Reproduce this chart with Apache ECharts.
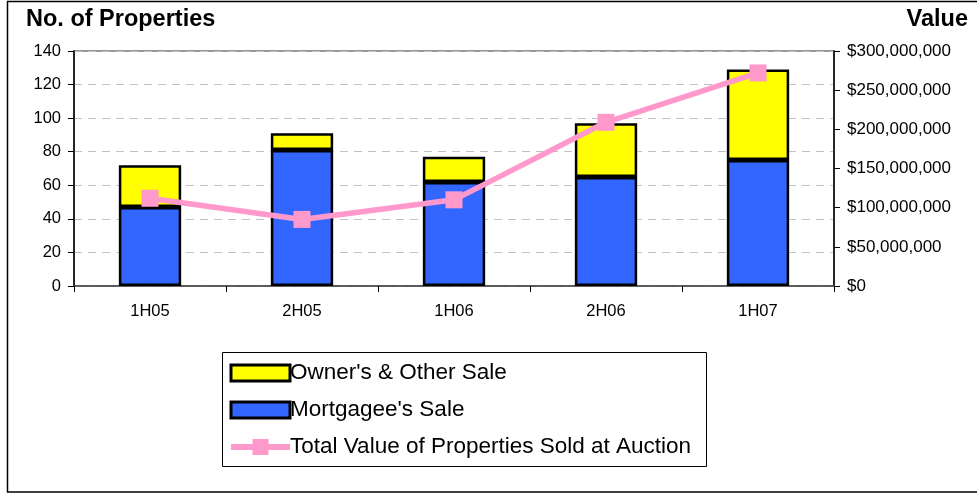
<!DOCTYPE html>
<html><head><meta charset="utf-8">
<script src="https://cdn.jsdelivr.net/npm/echarts@6/dist/echarts.min.js"></script>
<style>html,body{margin:0;padding:0;background:#fff}#c{width:977px;height:494px}</style>
</head><body><div id="c"></div>
<script>
var categories = ['1H05','2H05','1H06','2H06','1H07'];
var mortgageeSale = [47, 81, 62, 65, 75];
var ownersOtherSale = [25, 10, 15, 32, 54];
var totalValue = [112000000, 85000000, 110000000, 209000000, 272000000];

var chart = echarts.init(document.getElementById('c'));
var FONT = 'Liberation Sans, Arial, sans-serif';
function money(v){ return '$' + String(Math.round(v)).replace(/\B(?=(\d{3})+(?!\d))/g, ','); }
var barIcon = 'path://M0,0L55,0L55,15L0,15Z';

chart.setOption({
  animation: false,
  textStyle: {fontFamily: FONT},
  graphic: [
    {type:'rect', shape:{x:7.5, y:1.5, width:985, height:490.5}, style:{fill:'none', stroke:'#000', lineWidth:1.5}, z:-1},
    {type:'rect', shape:{x:222.5, y:352.5, width:484, height:114}, style:{fill:'#fff', stroke:'#000', lineWidth:1}, z:-1},
    {type:'text', left:26, top:8, style:{text:'No. of Properties', font:'bold 23.5px '+FONT, fill:'#000'}},
    {type:'text', right:9, top:8, style:{text:'Value', font:'bold 23.5px '+FONT, fill:'#000'}}
  ],
  legend: {
    orient:'vertical', left:228, top:361, padding:0,
    itemWidth:59, itemHeight:20, itemGap:13,
    textStyle:{fontSize:22.5, color:'#000', fontFamily:FONT, lineHeight:24, padding:[0,0,0,-5]},
    data:[
      {name:"Owner's & Other Sale", icon: barIcon, itemStyle:{borderWidth:3, borderColor:'#000'}},
      {name:"Mortgagee's Sale", icon: barIcon, itemStyle:{borderWidth:3, borderColor:'#000'}},
      {name:'Total Value of Properties Sold at Auction', lineStyle:{width:6}}
    ]
  },
  grid: {left:74, right:143, top:51, height:235, show:true, borderColor:'#999', borderWidth:2, containLabel:false},
  xAxis: {
    type:'category', data:categories,
    axisLine:{lineStyle:{color:'#444', width:1.5}},
    axisTick:{show:true, length:6, lineStyle:{color:'#000'}},
    axisLabel:{color:'#000', fontSize:16.5, margin:17}
  },
  yAxis: [
    {type:'value', min:0, max:140, interval:20, position:'left',
     axisLine:{show:true, lineStyle:{color:'#000', width:1.5}},
     axisTick:{show:true, length:6, lineStyle:{color:'#000'}},
     axisLabel:{color:'#000', fontSize:16.5, margin:13},
     splitLine:{show:true, lineStyle:{color:'#c0c0c0', type:[8,6], width:1}}},
    {type:'value', min:0, max:300000000, interval:50000000, position:'right',
     axisLine:{show:true, lineStyle:{color:'#000', width:1.5}},
     axisTick:{show:true, length:6, lineStyle:{color:'#000'}},
     axisLabel:{color:'#000', fontSize:17, margin:13, formatter:money},
     splitLine:{show:false}}
  ],
  series: [
    {name:"Mortgagee's Sale", type:'bar', stack:'n', data:mortgageeSale, barWidth:'41%',
     itemStyle:{color:'#3366FF', borderColor:'#000', borderWidth:2.5}},
    {name:"Owner's & Other Sale", type:'bar', stack:'n', data:ownersOtherSale, barWidth:'41%',
     itemStyle:{color:'#FFFF00', borderColor:'#000', borderWidth:2.5}},
    {name:'Total Value of Properties Sold at Auction', type:'line', yAxisIndex:1, data:totalValue,
     symbol:'rect', symbolSize:17, lineStyle:{color:'#FF99CC', width:5.5},
     itemStyle:{color:'#FF99CC'}, z:5}
  ]
});
</script></body></html>
